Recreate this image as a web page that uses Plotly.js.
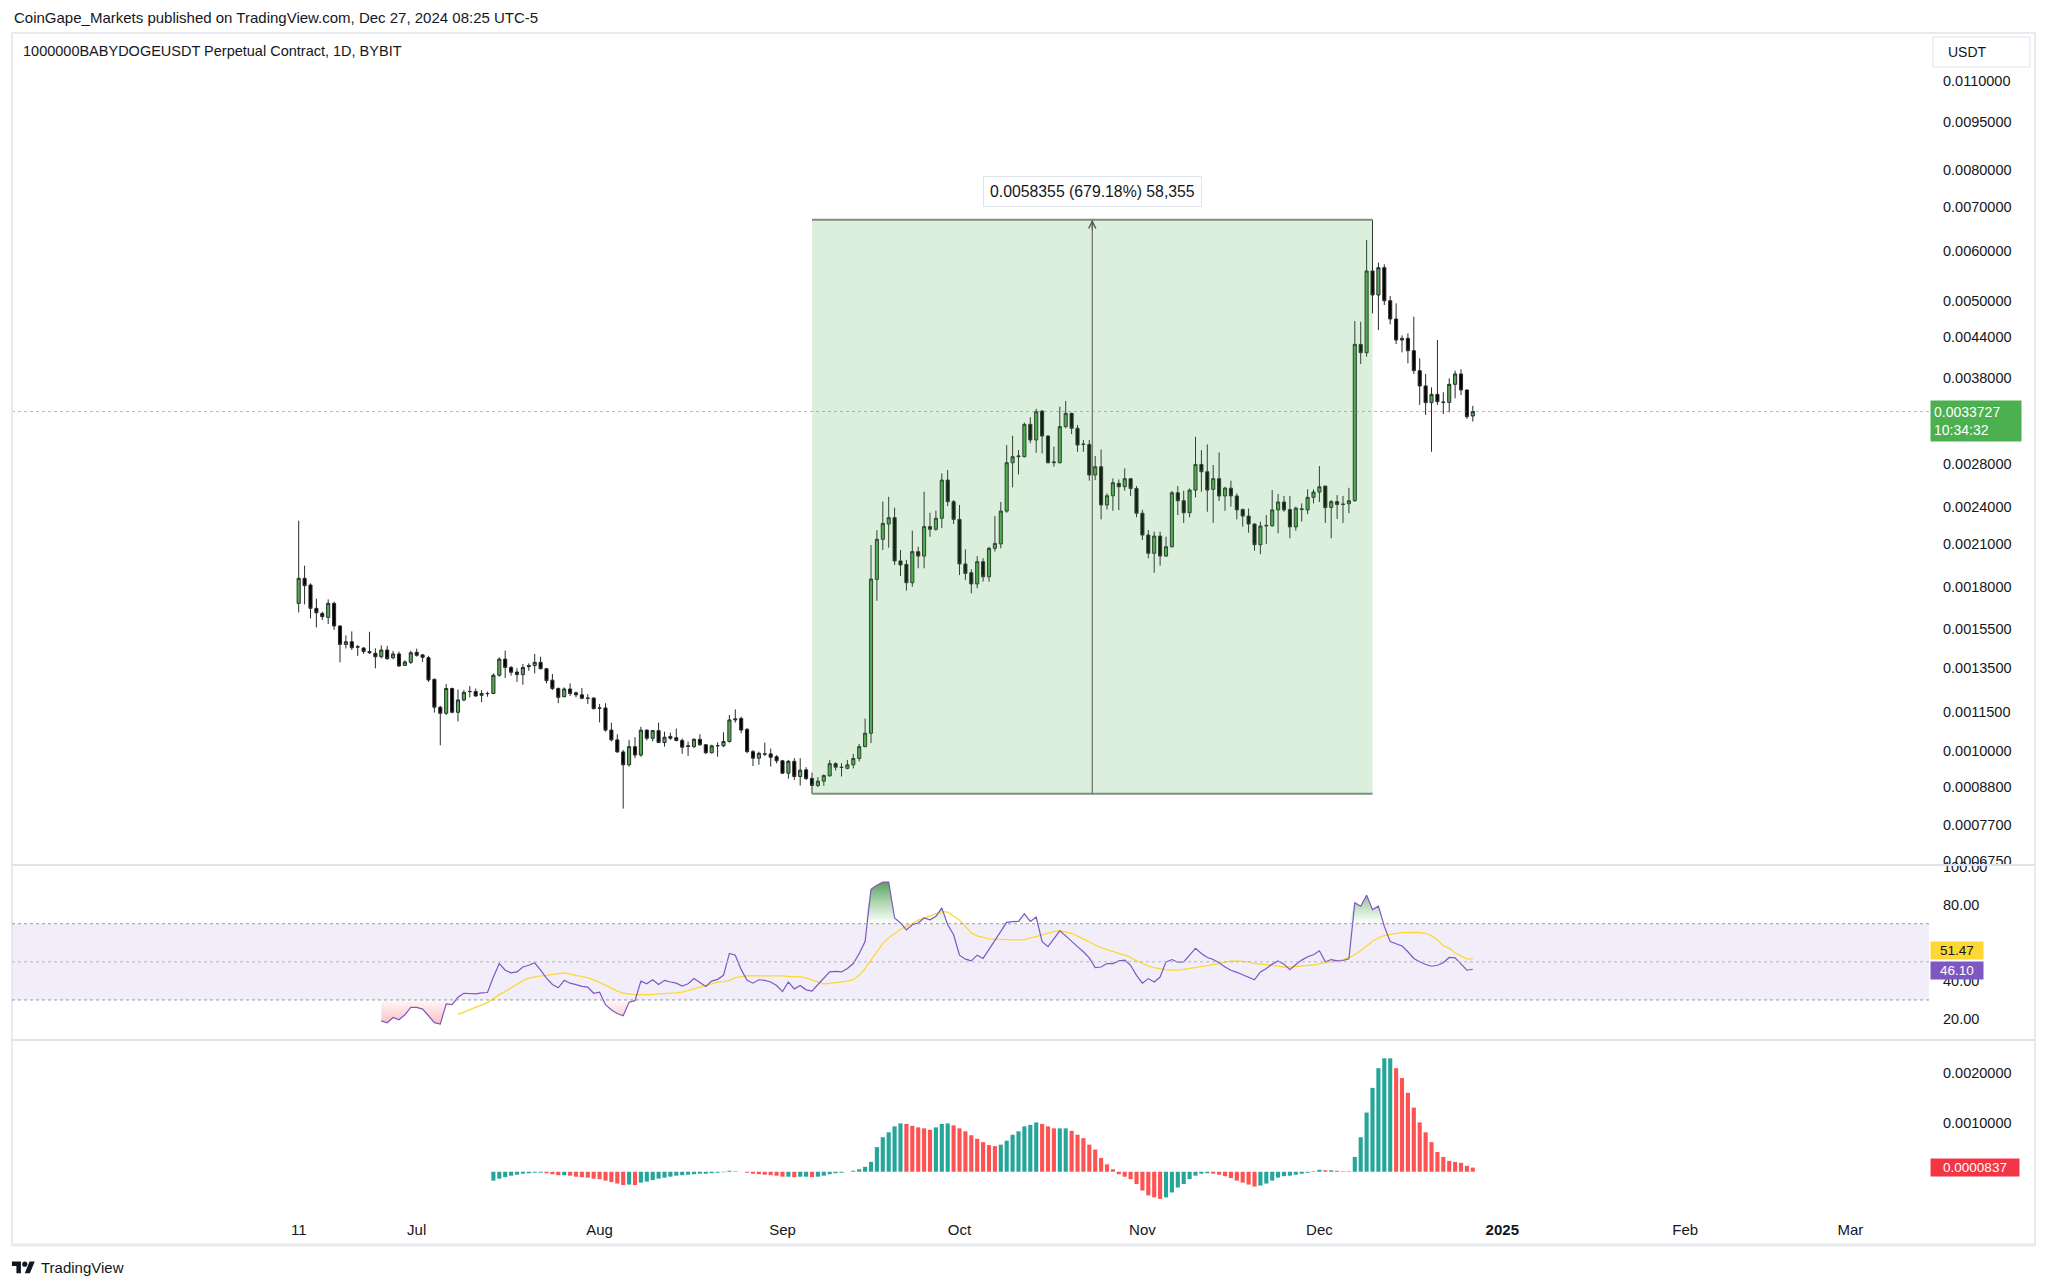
<!DOCTYPE html>
<html><head><meta charset="utf-8">
<script src="https://cdn.plot.ly/plotly-3.0.1.min.js"></script>
<style>html,body{margin:0;padding:0;background:#fff;}#chart{width:2048px;height:1288px;}</style>
</head><body><div id="chart"></div>
<script>
// ---------- DATA ----------
const firstDay = '2024-06-11'; // daily candles, 1D timeframe
const openP = [
.001698,.001857,.001813,.001668,.001638,.001615,.001698,.001566,.001466,.00148,
.001454,.001447,.001429,.00142,.001403,.001437,.001398,.001417,.00136,.001375,
.001425,.001412,.001398,.001294,.001171,.001146,.001252,.00115,.001202,.001238,
.001239,.001222,.001229,.00123,.001313,.001391,.00135,.001328,.001316,.001354,
.001359,.001375,.001344,.00129,.001252,.001216,.00125,.001233,.001224,.00121,
.00121,.001168,.001168,.001079,.001042,.000998,.000953,.001017,.000987,.001079,
.001048,.001077,.001032,.001055,.00105,.00104,.00102,.001017,.001044,.001024,
.000995,.00102,.00102,.001036,.001119,.001125,.001082,.000999,.000976,.000991,
.000991,.000981,.000967,.000925,.000965,.000914,.000936,.000908,.000885,.000899,
.000916,.000957,.000945,.000941,.000953,.000975,.001017,.001067,.00185,.002135,
.002255,.002307,.001976,.001952,.001828,.002043,.002011,.002234,.002213,.002302,
.002639,.002443,.002293,.001955,.001895,.00182,.001971,.001867,.002067,.0021,
.002362,.002808,.002869,.002869,.003221,.003046,.003378,.003089,.002808,.002808,
.003195,.003351,.003176,.003002,.002998,.002687,.002768,.002414,.002495,.002608,
.002577,.002652,.002561,.002344,.002168,.002031,.00216,.002011,.002079,.002522,
.002451,.002348,.002546,.002791,.002719,.002553,.002652,.002493,.002564,.002493,
.002375,.00232,.002255,.002094,.002244,.002241,.002372,.00244,.002375,.002232,
.002381,.002372,.002481,.002528,.002583,.002393,.002443,.002422,.002425,.002451,
.004288,.004162,.005575,.005116,.005642,.005013,.004695,.004355,.004381,.004192,
.003903,.003695,.003481,.003586,.003489,.003485,.003717,.003857,.003642,.003319];
const highP = [
.002282,.001943,.001824,.001727,.001648,.001722,.001708,.00157,.001514,.001536,
.001463,.001452,.001534,.001446,.001461,.001459,.001432,.001429,.001385,.001434,
.001444,.001417,.001407,.001297,.001177,.001272,.001256,.001248,.001245,.001263,
.001252,.001245,.001238,.001322,.0014,.001434,.001357,.001346,.001367,.00137,
.001417,.001403,.001348,.001319,.001257,.001257,.001275,.001238,.001254,.001227,
.001213,.001185,.001188,.001108,.001063,.001005,.001042,.001052,.001092,.001082,
.001079,.001108,.001073,.001069,.001085,.001047,.001036,.001048,.001063,.001027,
.001024,.001033,.001071,.001139,.001162,.001132,.001087,.001005,.000999,.001032,
.00101,.000987,.00097,.00097,.000976,.000976,.000945,.000927,.000912,.000921,
.00097,.000962,.000959,.00097,.000991,.001027,.001124,.002092,.002207,.002443,
.002486,.002391,.002055,.001983,.002202,.002079,.002531,.002348,.002365,.002703,
.002735,.002457,.002414,.00206,.001918,.002011,.001995,.002079,.00232,.00244,
.002991,.003093,.002938,.003241,.003303,.003406,.003388,.0031,.002974,.003431,
.003502,.003359,.003214,.003046,.003046,.002876,.002945,.002516,.002655,.002645,
.002752,.002658,.002583,.002372,.002207,.002194,.002194,.002155,.002537,.002583,
.00254,.002561,.003082,.002938,.002998,.002785,.002914,.002577,.002633,.002516,
.002384,.002384,.00226,.002275,.002329,.002546,.002511,.002493,.002493,.0024,
.002428,.002553,.002553,.002775,.002583,.002457,.002501,.002493,.002567,.004661,
.00465,.006229,.0066947,.005744,.00571,.005098,.004965,.004428,.00446,.004734,
.004078,.003857,.003677,.004355,.003613,.003797,.003903,.003922,.00365,.003442];
const lowP = [
.001644,.001692,.001609,.001558,.0016,.001577,.001544,.001375,.001445,.001437,
.001407,.001417,.001417,.001346,.001395,.001387,.00139,.001354,.001357,.001367,
.001403,.001377,.001282,.001149,.001022,.001139,.001146,.001113,.001196,.001213,
.001216,.001192,.001216,.001227,.001306,.0013,.001311,.001282,.001269,.001334,
.001322,.001341,.001275,.001245,.001188,.001213,.001219,.001213,.001205,.001185,
.001162,.001109,.001073,.001036,.000995,.000815,.000947,.000976,.000981,.00104,
.001036,.00103,.001017,.001042,.001036,.000991,.000984,.001012,.00102,.000991,
.000993,.000981,.001015,.001032,.001108,.001067,.000993,.000949,.000953,.000984,
.000947,.000958,.000922,.000907,.000903,.000885,.000903,.0008592,.00088,.000884,
.000914,.000934,.000914,.000938,.000941,.000965,.001015,.00103,.001714,.002055,
.002072,.001948,.001872,.001777,.001802,.001925,.001925,.002155,.002202,.002222,
.002405,.002255,.001879,.001846,.00176,.001792,.001835,.001835,.002043,.002067,
.002348,.002571,.002693,.002862,.00301,.00291,.002903,.002801,.002768,.002801,
.003176,.003111,.00292,.00292,.002633,.002639,.002293,.002375,.002365,.00237,
.00254,.002493,.00231,.00213,.001995,.001895,.001943,.002006,.002074,.002329,
.002264,.00231,.002481,.002531,.002356,.002264,.002448,.002365,.0024,.002293,
.002234,.002186,.00205,.002024,.002099,.002234,.002181,.002356,.002143,.002202,
.002275,.002336,.002428,.00244,.002264,.002143,.002296,.002264,.002344,.002443,
.003997,.004103,.004791,.004513,.004936,.004606,.004293,.004167,.004007,.003857,
.003452,.003331,.00292,.003452,.003343,.003363,.003535,.003577,.003284,.003253];
const closeP = [
.001857,.001809,.001668,.001642,.001619,.001698,.001566,.001466,.00148,.001449,
.001452,.001429,.001423,.001403,.001437,.001393,.001417,.001357,.001377,.001423,
.00141,.0014,.001291,.001171,.001146,.001252,.00115,.001202,.001235,.001239,
.001219,.00123,.00123,.001313,.001391,.00135,.001327,.001316,.00135,.001359,
.001375,.001344,.001288,.001252,.001213,.00125,.00123,.001224,.001209,.001209,
.001165,.001167,.001079,.001042,.000998,.000953,.001017,.000987,.001079,.001048,
.001077,.001032,.001052,.001048,.00104,.001015,.001018,.001044,.001024,.000995,
.00102,.001021,.001036,.001119,.001123,.001079,.000999,.000976,.000993,.00099,
.000979,.000967,.000925,.000965,.000914,.000935,.000907,.000885,.000899,.000917,
.000957,.000945,.000944,.000953,.000975,.001017,.001067,.001852,.002135,.00226,
.002307,.001976,.001948,.001828,.002043,.002011,.002234,.002213,.002302,.002639,
.002443,.002293,.001955,.00189,.00182,.001971,.001867,.002067,.002104,.002362,
.002808,.002869,.002876,.003221,.003046,.00337,.003089,.002808,.002815,.003195,
.003351,.003176,.002991,.002998,.002687,.002768,.002414,.002495,.002614,.002577,
.002652,.002561,.002344,.002168,.002031,.00216,.002011,.002079,.002522,.002451,
.002348,.002546,.002791,.002719,.002546,.002652,.002493,.002564,.002493,.002372,
.00232,.002255,.002094,.002239,.002241,.002372,.00244,.002372,.002232,.002387,
.002375,.002481,.002528,.002577,.002391,.002443,.002419,.002419,.002451,.004288,
.004162,.005575,.005116,.005642,.005013,.004695,.004355,.004381,.004192,.003903,
.003695,.003481,.003586,.003493,.003485,.003717,.003857,.003642,.003311,.0033727];

// RSI (14) starts at candle 14, its moving average at candle 27
const rsiStart = 14;
const rsiValues = [
19.0,18.0,20.8,19.6,22.2,26.1,
26.1,25.2,21.7,18.1,17.3,27.9,27.5,31.4,33.5,33.5,
33.2,33.7,33.9,42.0,49.1,45.6,44.2,44.7,47.3,48.2,
49.5,45.6,41.5,38.1,36.4,40.3,38.8,38.0,37.1,36.7,
33.5,34.1,27.5,24.7,22.9,21.7,28.8,29.6,39.9,38.5,
40.6,38.1,40.3,39.4,38.8,37.3,38.5,41.2,39.2,37.1,
39.9,40.8,42.9,54.4,53.5,45.9,40.3,38.8,40.6,40.3,
39.4,37.6,34.4,39.4,35.8,37.6,35.3,34.6,38.1,41.2,
44.7,45.0,44.7,46.5,49.1,54.4,60.6,88.1,90.2,91.8,
91.8,73.0,70.4,66.8,69.5,70.4,73.0,72.1,73.9,78.3,
69.5,64.2,53.5,51.4,50.5,53.5,51.8,56.5,61.2,66.5,
70.7,71.1,71.2,75.3,71.2,73.5,60.6,58.0,61.9,66.3,
63.6,60.6,58.0,55.3,52.1,47.0,47.3,49.1,49.1,50.5,
50.9,48.2,42.9,38.8,41.2,39.4,42.0,50.0,51.2,49.8,
50.0,53.5,57.1,54.4,52.3,51.2,49.5,47.3,45.6,44.5,
43.3,41.7,40.6,44.7,46.5,48.8,50.5,48.8,45.9,48.6,
50.9,52.7,53.7,55.8,50.0,51.2,50.5,50.7,51.6,81.0,
79.2,84.9,77.4,79.2,68.6,60.6,59.4,58.3,55.3,51.8,
50.0,48.6,47.7,48.2,49.5,52.3,52.1,49.1,45.6,46.10];
const rsiMaStart = 27;
const rsiMaValues = [
22.4,23.6,24.9,
25.9,27.2,28.6,30.7,32.8,34.4,36.4,38.5,40.1,41.5,
42.2,42.6,42.9,43.3,43.6,44.2,43.5,42.7,42.2,41.7,
40.6,39.2,37.8,36.2,34.6,33.5,33.0,32.8,32.8,32.8,
32.8,33.2,33.3,33.5,33.7,34.1,35.0,36.0,36.9,38.0,
38.8,39.4,39.6,40.1,41.7,42.4,42.7,42.7,42.7,42.9,
42.9,42.7,42.6,42.4,42.4,42.1,41.6,40.6,39.5,38.5,
38.7,39.0,39.4,39.9,40.6,42.9,46.5,50.9,55.8,59.7,
62.6,65.0,67.0,68.6,70.0,71.9,73.0,74.1,75.3,76.4,
76.1,73.9,71.8,68.6,65.2,63.6,62.6,62.0,61.9,61.7,
61.5,61.5,61.5,61.5,62.4,63.3,64.0,64.8,65.9,66.3,
65.8,65.0,63.5,62.0,60.3,58.8,57.4,56.4,55.5,54.6,
53.5,52.3,50.5,49.3,47.7,47.0,46.3,45.8,45.6,45.6,
46.1,46.6,47.0,47.3,47.9,48.6,49.1,49.8,50.4,50.5,
50.4,50.0,49.1,48.9,48.6,48.1,47.7,47.3,47.3,47.5,
47.7,48.1,48.4,48.9,49.5,50.0,50.5,51.2,52.3,53.7,
55.8,58.3,60.8,62.6,63.8,64.4,64.9,65.3,65.4,65.4,
65.4,65.0,63.6,61.5,58.5,57.1,54.8,53.0,51.6,51.47];

// MACD histogram starts at candle 33
const macdStart = 33;
const macdHist = [
-0.00018,-0.00014,-0.00011,-0.00008,-0.00006,-0.00004,-0.00003,
-0.00002,-0.00002,-0.00003,-0.00005,-0.00007,-0.00007,-0.00008,-0.0001,-0.00011,-0.00012,
-0.00014,-0.00015,-0.00018,-0.00021,-0.00024,-0.00027,-0.00026,-0.00027,-0.00022,-0.0002,
-0.00017,-0.00014,-0.00012,-0.0001,-0.00008,-0.00007,-0.00006,-0.00005,-0.00004,-0.00004,
-0.00003,-0.00002,-0.00001,0.00002,0.00001,0,-0.00002,-0.00004,-0.00005,-0.00006,
-0.00007,-0.00008,-0.0001,-0.0001,-0.00011,-0.0001,-0.0001,-0.00011,-0.0001,-0.00008,
-0.00005,-0.00003,-0.00002,0,0.00002,0.00005,0.0001,0.0002,0.0005,0.0007,
0.0008,0.00092,0.00098,0.00097,0.00093,0.0009,0.00088,0.00085,0.0009,0.00097,
0.00098,0.00094,0.00088,0.00082,0.00074,0.00067,0.0006,0.00054,0.00052,0.00055,
0.00063,0.00075,0.00082,0.00092,0.00095,0.001,0.00097,0.00092,0.00088,0.00088,
0.00088,0.00083,0.00075,0.00068,0.00055,0.00045,0.00028,0.00015,0.00005,-0.00005,
-0.0001,-0.00015,-0.00025,-0.00038,-0.00048,-0.00052,-0.00055,-0.00052,-0.00042,-0.00032,
-0.00025,-0.00015,-0.00008,-0.00004,-0.00003,-0.00004,-0.00006,-0.00009,-0.00013,-0.00018,
-0.00022,-0.00026,-0.0003,-0.00028,-0.00024,-0.00018,-0.00012,-0.00009,-0.00008,-0.00006,
-0.00004,-0.00002,0.00001,0.00004,0.00003,0.00003,0.00002,0.00001,0.00001,0.0003,
0.0007,0.0012,0.0017,0.0021,0.0023,0.0023,0.0021,0.0019,0.0016,0.0013,
0.001,0.0008,0.0006,0.0004,0.0003,0.00022,0.0002,0.00018,0.00012,0.0000837];

// price-range measurement drawn on the chart
const rangeFromIndex = 87, rangeToIndex = 182;
const rangeChange = 0.0058355, rangePct = 679.18, rangeTicks = 58355;

// axis ticks (60.00 on the RSI scale is hidden behind the value labels in the original)
const priceTicks = [0.011,0.0095,0.008,0.007,0.006,0.005,0.0044,0.0038,0.0028,0.0024,0.0021,0.0018,0.00155,0.00135,0.00115,0.001,0.00088,0.00077,0.000675];
const rsiTicks = [20,40,80,100];
const macdTicks = [0.001,0.002];
const timeTickDates = ['2024-06-11','2024-07-01','2024-08-01','2024-09-01','2024-10-01','2024-11-01','2024-12-01','2025-01-01','2025-02-01','2025-03-01'];
const timeTickLabels = ['11','Jul','Aug','Sep','Oct','Nov','Dec','2025','Feb','Mar'];
const countdown = '10:34:32';

// ---------- BUILD ----------
const DAY = 86400000;
const t0 = Date.parse(firstDay + 'T00:00:00Z');
const dayStr = i => new Date(t0 + i * DAY).toISOString().slice(0, 10);
const dates = openP.map((_, i) => dayStr(i));
const xRange = ['2024-04-23 09:50', '2025-03-14 07:40'];
const lastClose = closeP[closeP.length - 1];
const rsiX = rsiValues.map((_, k) => dates[rsiStart + k]);
const rsiMaX = rsiMaValues.map((_, k) => dates[rsiMaStart + k]);
const macdX = macdHist.map((_, k) => dates[macdStart + k]);
const macdColors = macdHist.map((v, k) => (k === 0 || v >= macdHist[k - 1]) ? '#26a69a' : '#ff5252');

const rLow = lowP[rangeFromIndex], rHigh = highP[rangeToIndex];
const xA = dates[rangeFromIndex], xB = dates[rangeToIndex];
const midMs = (Date.parse(xA) + Date.parse(xB)) / 2;
const xMid = new Date(midMs).toISOString().slice(0, 16).replace('T', ' ');

const FONT = 'Liberation Sans, Arial, sans-serif';
const TXT = '#131722';

const traces = [
  {type:'scatter', mode:'lines', x:[xA,xB,xB,xA,xA], y:[rLow,rLow,rHigh,rHigh,rLow],
   fill:'toself', fillcolor:'rgba(76,175,80,0.2)', line:{width:0}, hoverinfo:'skip', xaxis:'x', yaxis:'y'},
  {type:'scatter', mode:'lines', x:[xA,xB], y:[rLow,rLow], line:{color:'#7f8f7f', width:2}, hoverinfo:'skip', yaxis:'y'},
  {type:'scatter', mode:'lines', x:[xA,xB], y:[rHigh,rHigh], line:{color:'#7f8f7f', width:2}, hoverinfo:'skip', yaxis:'y'},
  {type:'scatter', mode:'lines', x:[xMid,xMid], y:[rLow,rHigh], line:{color:'#555', width:1}, hoverinfo:'skip', yaxis:'y'},
  {type:'scatter', mode:'lines', x:xRange, y:[lastClose,lastClose], line:{color:'rgba(76,175,80,0.55)', width:1, dash:'dot'}, hoverinfo:'skip', yaxis:'y'},
  {type:'candlestick', x:dates, open:openP, high:highP, low:lowP, close:closeP, xaxis:'x', yaxis:'y',
   increasing:{fillcolor:'#4caf50', line:{color:'#2b2b2b', width:1}},
   decreasing:{fillcolor:'#000000', line:{color:'#2b2b2b', width:1}},
   whiskerwidth:0, hoverinfo:'skip'},
  {type:'scatter', mode:'lines', x:rsiX, y:rsiValues.map(()=>70), line:{width:0}, hoverinfo:'skip', yaxis:'y2'},
  {type:'scatter', mode:'lines', x:rsiX, y:rsiValues.map(v=>Math.max(v,70)), line:{width:0}, fill:'tonexty',
   fillcolor:'rgba(76,175,80,0.4)',
   fillgradient:{type:'vertical', start:70, stop:92, colorscale:[[0,'rgba(76,175,80,0)'],[1,'rgba(56,142,60,0.85)']]},
   hoverinfo:'skip', yaxis:'y2'},
  {type:'scatter', mode:'lines', x:rsiX, y:rsiValues.map(()=>30), line:{width:0}, hoverinfo:'skip', yaxis:'y2'},
  {type:'scatter', mode:'lines', x:rsiX, y:rsiValues.map(v=>Math.min(v,30)), line:{width:0}, fill:'tonexty',
   fillcolor:'rgba(242,54,69,0.2)',
   fillgradient:{type:'vertical', start:30, stop:16, colorscale:[[0,'rgba(242,54,69,0.03)'],[1,'rgba(242,54,69,0.35)']]},
   hoverinfo:'skip', yaxis:'y2'},
  {type:'scatter', mode:'lines', x:rsiMaX, y:rsiMaValues, line:{color:'#fdd835', width:1.3}, hoverinfo:'skip', yaxis:'y2'},
  {type:'scatter', mode:'lines', x:rsiX, y:rsiValues, line:{color:'#7e57c2', width:1.2}, hoverinfo:'skip', yaxis:'y2'},
  {type:'bar', x:macdX, y:macdHist, marker:{color:macdColors, line:{width:0}}, hoverinfo:'skip', xaxis:'x', yaxis:'y3'}
];

const PL = 12, PR = 1929, PT = 33, PB = 1215;
const px = v => (v - PL) / (PR - PL);
const py = v => (PB - v) / (PB - PT);

const tvLogo = '<svg xmlns="http://www.w3.org/2000/svg" viewBox="0 0 36 28"><path d="M14 22H7V11H0V4h14v18zM28 22h-8l7.5-18h8L28 22z" fill="#131722"/><circle cx="20" cy="8" r="4" fill="#131722"/></svg>';

const layout = {
  width:2048, height:1288,
  margin:{l:PL, r:2048-PR, t:PT, b:1288-PB, pad:0},
  paper_bgcolor:'#ffffff', plot_bgcolor:'#ffffff',
  showlegend:false, hovermode:false, dragmode:false,
  font:{family:FONT, color:TXT, size:15},
  bargap:0.3, boxgap:0.25,
  xaxis:{type:'date', range:xRange, domain:[0,1], anchor:'y3', rangeslider:{visible:false},
    tickvals:timeTickDates, ticktext:timeTickLabels.map(t => t === '2025' ? '<b>2025</b>' : t),
    showgrid:false, zeroline:false, showline:false, ticks:'', tickfont:{size:15, color:TXT}, ticklabelstandoff:4},
  yaxis:{type:'log', domain:[py(865),1], range:[Math.log10(0.000666), Math.log10(0.01306)], side:'right', anchor:'x',
    tickvals:priceTicks, ticktext:priceTicks.map(v=>v.toFixed(7)), showgrid:false, zeroline:false, showline:false,
    ticks:'', tickfont:{size:14.5, color:TXT}, ticklabelstandoff:13},
  yaxis2:{domain:[py(1039),py(866)], range:[9.5,100.3], side:'right', anchor:'x',
    tickvals:rsiTicks, ticktext:rsiTicks.map(v=>v.toFixed(2)), showgrid:false, zeroline:false, showline:false,
    ticks:'', tickfont:{size:14.5, color:TXT}, ticklabelstandoff:13},
  yaxis3:{domain:[0,py(1041)], range:[-0.000877,0.002651], side:'right', anchor:'x',
    tickvals:macdTicks, ticktext:macdTicks.map(v=>v.toFixed(7)), showgrid:false, zeroline:false, showline:false,
    ticks:'', tickfont:{size:14.5, color:TXT}, ticklabelstandoff:13},
  shapes:[
    {type:'rect', xref:'paper', yref:'paper', x0:0, x1:px(2035), y0:py(1245), y1:1, line:{color:'#e0e3eb', width:1.5}},
    {type:'line', xref:'paper', yref:'paper', x0:0, x1:px(2035), y0:py(865), y1:py(865), line:{color:'#e0e3eb', width:2}},
    {type:'line', xref:'paper', yref:'paper', x0:0, x1:px(2035), y0:py(1040), y1:py(1040), line:{color:'#e0e3eb', width:2}},
    {type:'line', xref:'paper', yref:'paper', x0:0, x1:px(2035), y0:py(1245), y1:py(1245), line:{color:'#e9eaf0', width:3}},
    {type:'rect', xref:'paper', yref:'y2', x0:0, x1:1, y0:30, y1:70, fillcolor:'rgba(126,87,194,0.1)', line:{width:0}, layer:'below'},
    {type:'line', xref:'paper', yref:'y2', x0:0, x1:1, y0:70, y1:70, line:{color:'#9598a1', width:1, dash:'3px,3px'}},
    {type:'line', xref:'paper', yref:'y2', x0:0, x1:1, y0:50, y1:50, line:{color:'#b2b5be', width:1, dash:'3px,3px'}},
    {type:'line', xref:'paper', yref:'y2', x0:0, x1:1, y0:30, y1:30, line:{color:'#9598a1', width:1, dash:'3px,3px'}},
    {type:'rect', xref:'paper', yref:'paper', x0:px(1933), x1:px(2030), y0:py(67), y1:py(37), line:{color:'#e0e3eb', width:1}, fillcolor:'#ffffff'}
  ],
  annotations:[
    {xref:'paper', yref:'paper', x:0, y:py(18), xanchor:'left', yanchor:'middle', showarrow:false,
     text:'CoinGape_Markets published on TradingView.com, Dec 27, 2024 08:25 UTC-5', font:{size:15, color:TXT}},
    {xref:'paper', yref:'paper', x:px(21), y:py(51), xanchor:'left', yanchor:'middle', showarrow:false,
     text:'1000000BABYDOGEUSDT Perpetual Contract, 1D, BYBIT', font:{size:14.5, color:TXT}},
    {xref:'paper', yref:'paper', x:px(1946), y:py(52), xanchor:'left', yanchor:'middle', showarrow:false,
     text:'USDT', font:{size:14, color:TXT}},
    {xref:'paper', yref:'paper', x:px(39), y:py(1267), xanchor:'left', yanchor:'middle', showarrow:false,
     text:'TradingView', font:{size:15, color:TXT}},
    {xref:'x', yref:'y', x:xMid, y:Math.log10(rHigh), yanchor:'bottom', xanchor:'center', yshift:13, showarrow:false,
     text:rangeChange.toFixed(7)+' ('+rangePct.toFixed(2)+'%) '+rangeTicks.toLocaleString('en-US'),
     font:{size:15.8, color:TXT}, bgcolor:'#ffffff', bordercolor:'#e0e3eb', borderwidth:1, borderpad:6},
    {xref:'x', yref:'y', x:xMid, y:Math.log10(rHigh), ax:0, ay:12, showarrow:true, arrowhead:5, arrowsize:1.4,
     arrowwidth:1, arrowcolor:'#555', text:''},
    {xref:'paper', yref:'y', x:px(1930), y:Math.log10(lastClose), xanchor:'left', yanchor:'top', yshift:11, showarrow:false,
     text:lastClose.toFixed(7)+'<br>'+countdown, align:'left', width:84, borderpad:3,
     bgcolor:'#4caf50', font:{size:14, color:'#ffffff'}},
    {xref:'paper', yref:'y2', x:px(1930), y:rsiMaValues[rsiMaValues.length-1], xanchor:'left', yanchor:'middle', yshift:9, showarrow:false,
     text:rsiMaValues[rsiMaValues.length-1].toFixed(2), width:50, borderpad:1, bgcolor:'#fdd835', font:{size:13.5, color:TXT}},
    {xref:'paper', yref:'y2', x:px(1930), y:rsiValues[rsiValues.length-1], xanchor:'left', yanchor:'middle', yshift:-1, showarrow:false,
     text:rsiValues[rsiValues.length-1].toFixed(2), width:50, borderpad:1, bgcolor:'#7e57c2', font:{size:13.5, color:'#ffffff'}},
    {xref:'paper', yref:'y3', x:px(1930), y:macdHist[macdHist.length-1], xanchor:'left', yanchor:'middle', showarrow:false,
     text:macdHist[macdHist.length-1].toFixed(7), width:86, borderpad:1, bgcolor:'#f23645', font:{size:13.5, color:'#ffffff'}}
  ],
  images:[
    {source:'data:image/svg+xml;base64,'+btoa(tvLogo), xref:'paper', yref:'paper', x:px(11), y:py(1259),
     sizex:px(36)-px(11), sizey:py(1259)-py(1277), xanchor:'left', yanchor:'top', sizing:'contain', layer:'above'}
  ]
};

Plotly.newPlot('chart', traces, layout, {displayModeBar:false, staticPlot:true});
</script></body></html>
